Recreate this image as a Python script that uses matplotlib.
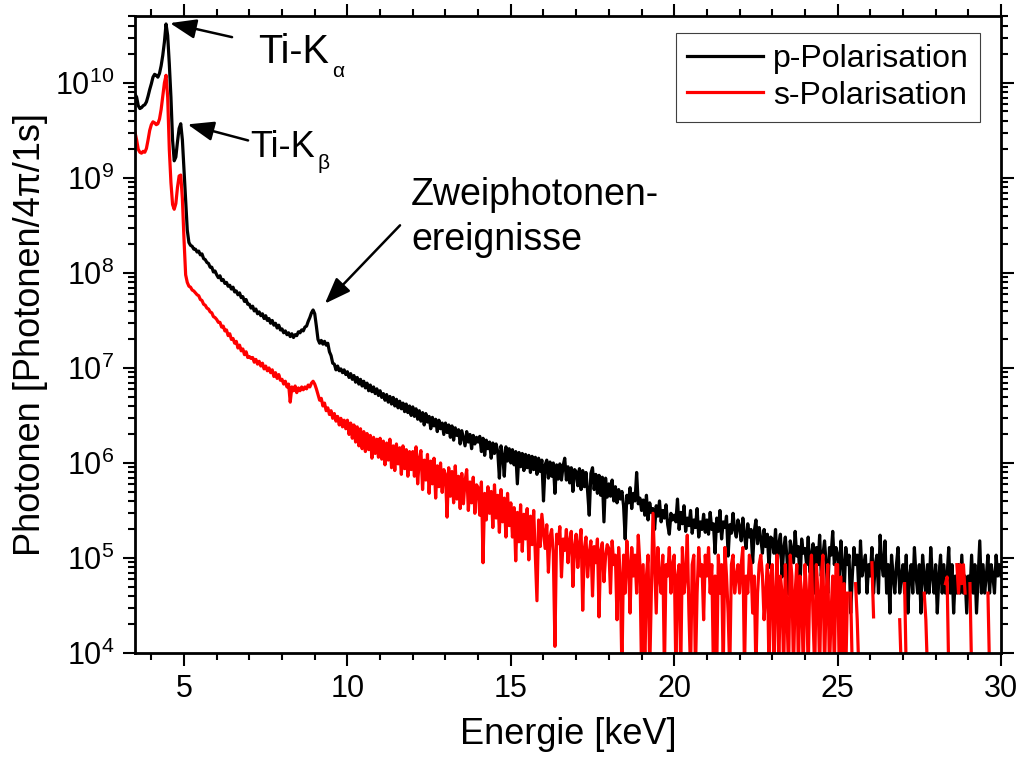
import numpy as np
import matplotlib
matplotlib.use("Agg")
import matplotlib.pyplot as plt
from matplotlib.ticker import MultipleLocator, LogLocator, NullFormatter

nan = float("nan")

# energy channels, 0.05 keV wide
energy = np.round(np.linspace(3.5, 30.0, 531), 2)

# log10 of photon counts, one row per keV (first row starts at 3.5 keV)
p_log10 = [
    9.88, 9.85, 9.76, 9.73, 9.74, 9.76, 9.77, 9.80, 9.86, 9.93,
    9.99, 10.06, 10.09, 10.08, 10.06, 10.10, 10.18, 10.29, 10.43, 10.62, 10.50, 10.20, 9.85, 9.40, 9.18, 9.22, 9.38, 9.52, 9.57, 9.40,
    9.08, 8.78, 8.45, 8.32, 8.29, 8.28, 8.25, 8.25, 8.22, 8.23, 8.19, 8.20, 8.15, 8.14, 8.11, 8.10, 8.06, 8.06, 8.01, 8.02,
    7.98, 7.95, 7.97, 7.92, 7.93, 7.89, 7.90, 7.86, 7.87, 7.83, 7.85, 7.80, 7.81, 7.77, 7.79, 7.74, 7.75, 7.70, 7.72, 7.67,
    7.67, 7.63, 7.65, 7.60, 7.62, 7.57, 7.59, 7.55, 7.57, 7.52, 7.55, 7.50, 7.52, 7.47, 7.50, 7.45, 7.47, 7.42, 7.45, 7.40,
    7.41, 7.37, 7.39, 7.35, 7.37, 7.33, 7.36, 7.32, 7.35, 7.34, 7.38, 7.37, 7.40, 7.39, 7.43, 7.44, 7.49, 7.53, 7.58, 7.61,
    7.57, 7.44, 7.30, 7.26, 7.29, 7.25, 7.28, 7.24, 7.26, 7.17, 7.13, 7.05, 7.04, 6.98, 7.02, 6.97, 6.99, 6.95, 6.98, 6.93,
    6.96, 6.90, 6.94, 6.88, 6.92, 6.85, 6.90, 6.83, 6.88, 6.81, 6.86, 6.79, 6.84, 6.76, 6.82, 6.75, 6.80, 6.73, 6.78, 6.71,
    6.76, 6.69, 6.73, 6.66, 6.72, 6.64, 6.70, 6.62, 6.69, 6.60, 6.67, 6.58, 6.65, 6.57, 6.63, 6.54, 6.62, 6.53, 6.60, 6.50,
    6.59, 6.49, 6.57, 6.46, 6.55, 6.44, 6.53, 6.40, 6.52, 6.43, 6.49, 6.36, 6.48, 6.39, 6.46, 6.33, 6.45, 6.36, 6.42, 6.30,
    6.42, 6.32, 6.40, 6.27, 6.39, 6.24, 6.37, 6.29, 6.35, 6.20, 6.34, 6.26, 6.18, 6.33, 6.22, 6.30, 6.15, 6.29, 6.20, 6.27,
    6.22, 6.28, 6.12, 6.26, 6.08, 6.24, 6.15, 6.22, 6.05, 6.21, 6.10, 6.20, 6.12, 5.84, 6.18, 6.08, 5.86, 6.17, 6.02, 6.15,
    6.00, 6.14, 5.98, 6.12, 5.78, 6.11, 5.96, 6.10, 5.92, 6.09, 5.95, 6.08, 5.90, 6.07, 5.93, 6.06, 5.88, 6.05, 5.91, 6.03,
    5.60, 5.98, 6.03, 5.84, 6.01, 5.86, 6.00, 5.68, 5.98, 5.83, 5.99, 5.82, 5.97, 6.05, 5.82, 5.96, 5.79, 5.95, 5.70, 5.93,
    5.91, 5.76, 5.94, 5.72, 5.92, 5.75, 5.90, 5.70, 5.45, 5.89, 5.95, 5.72, 5.88, 5.68, 5.87, 5.66, 5.85, 5.38, 5.84, 5.64,
    5.78, 5.65, 5.82, 5.60, 5.75, 5.58, 5.72, 5.62, 5.70, 5.55, 5.20, 5.66, 5.58, 5.74, 5.52, 5.68, 5.60, 5.90, 5.57, 5.63,
    5.50, 5.61, 5.45, 5.66, 5.40, 5.58, 5.48, 5.52, 5.30, 5.55, 5.44, 5.60, 5.38, 5.50, 5.42, 5.56, 5.35, 5.25, 5.47, 5.40,
    5.45, 5.38, 5.62, 5.30, 5.48, 5.36, 5.55, 5.28, 5.42, 5.34, 5.50, 5.26, 5.40, 5.32, 5.52, 5.22, 5.38, 5.30, 5.46, 5.27,
    5.40, 5.25, 5.48, 5.30, 5.36, 5.05, 5.42, 5.28, 5.50, 5.20, 5.38, 5.32, 5.44, 5.02, 5.35, 5.26, 5.47, 5.30, 5.22, 5.40,
    5.33, 5.18, 5.42, 5.24, 5.10, 5.36, 5.22, 5.30, 4.95, 5.28, 5.40, 5.15, 5.32, 5.20, 5.05, 5.30, 5.12, 5.25, 4.90, 5.22,
    5.20, 5.05, 5.30, 4.95, 5.15, 5.25, 4.80, 5.10, 5.22, 5.00, 4.62, 5.18, 5.08, 4.95, 5.28, 5.02, 5.12, 4.70, 5.20, 5.05,
    5.10, 4.93, 5.22, 4.85, 5.03, 5.15, 4.63, 5.11, 4.93, 5.24, 4.81, 5.03, 5.18, 4.93, 4.63, 5.11, 5.03, 5.28, 4.93, 5.11,
    5.03, 4.81, 5.18, 4.93, 4.63, 5.11, 4.93, 5.03, 4.42, 4.81, 5.11, 4.93, 5.03, 4.63, 5.18, 4.81, 4.93, 5.03, 4.63, 4.93,
    4.81, 5.11, 4.63, 4.93, 5.03, 4.63, 5.24, 4.93, 4.81, 5.18, 4.63, 4.93, 4.42, 5.03, 4.81, 4.63, 4.93, 5.11, 4.63, 4.81,
    4.93, 4.63, 5.03, 4.42, 4.81, 4.93, 4.63, 5.11, 4.81, 4.63, 4.93, 4.42, 5.03, 4.81, 4.63, 4.93, 4.63, 5.11, 4.81, 4.63,
    4.93, 4.42, 4.81, 5.03, 4.63, 4.93, 4.63, 4.81, 5.11, 4.63, 4.93, 4.42, 4.81, 4.63, 4.93, 4.63, 5.03, 4.63, 4.81, 4.42,
    4.81, 4.63, 5.03, 4.63, 4.93, 4.42, 4.81, 5.18, 4.63, 4.93, 4.63, 4.81, 5.03, 4.63, 4.93, 4.81, 4.63, 5.03, 4.81, 4.93,
    4.81,
]

# s-polarisation; nan = empty channel (zero counts)
s_log10 = [
    9.48, 9.40, 9.30, 9.27, 9.26, 9.28, 9.27, 9.31, 9.40, 9.50,
    9.56, 9.59, 9.58, 9.56, 9.57, 9.62, 9.72, 9.86, 10.00, 10.08, 9.85, 9.30, 8.95, 8.72, 8.67, 8.73, 8.90, 9.02, 9.03, 8.78,
    8.35, 7.98, 7.90, 7.86, 7.85, 7.82, 7.81, 7.79, 7.77, 7.76, 7.72, 7.71, 7.67, 7.66, 7.63, 7.62, 7.59, 7.58, 7.54, 7.53,
    7.51, 7.48, 7.48, 7.43, 7.44, 7.39, 7.40, 7.34, 7.36, 7.30, 7.31, 7.26, 7.28, 7.21, 7.24, 7.18, 7.20, 7.14, 7.17, 7.11,
    7.12, 7.10, 7.11, 7.06, 7.09, 7.04, 7.07, 7.02, 7.05, 6.99, 7.02, 6.97, 7.00, 6.95, 6.98, 6.91, 6.95, 6.89, 6.93, 6.87,
    6.88, 6.83, 6.86, 6.80, 6.83, 6.64, 6.80, 6.76, 6.81, 6.74, 6.79, 6.76, 6.80, 6.77, 6.80, 6.78, 6.82, 6.80, 6.84, 6.86,
    6.83, 6.78, 6.72, 6.66, 6.68, 6.60, 6.63, 6.55, 6.58, 6.51, 6.55, 6.47, 6.52, 6.44, 6.49, 6.40, 6.47, 6.38, 6.45, 6.36,
    6.45, 6.30, 6.42, 6.26, 6.40, 6.22, 6.38, 6.18, 6.36, 6.15, 6.33, 6.12, 6.31, 6.14, 6.29, 6.05, 6.27, 6.10, 6.25, 6.06,
    6.26, 6.04, 6.23, 5.98, 6.21, 6.03, 6.25, 5.95, 6.18, 5.92, 6.20, 5.99, 6.16, 5.88, 6.18, 5.94, 6.14, 5.86, 6.12, 5.93,
    6.12, 5.86, 6.17, 5.78, 6.05, 6.13, 5.72, 6.03, 5.82, 6.09, 5.68, 6.02, 5.78, 6.05, 5.63, 5.97, 5.75, 6.00, 5.69, 5.93,
    5.88, 5.43, 5.95, 5.65, 5.91, 5.58, 5.97, 5.62, 5.86, 5.52, 5.89, 5.57, 5.81, 5.93, 5.50, 5.80, 5.58, 5.85, 5.47, 5.77,
    5.74, 5.45, 5.80, 4.95, 5.68, 5.40, 5.75, 5.47, 5.70, 5.32, 5.77, 5.42, 5.66, 5.27, 5.72, 5.38, 5.63, 5.22, 5.68, 5.34,
    5.58, 5.22, 5.53, 4.97, 5.48, 5.17, 5.56, 5.07, 5.46, 5.20, 5.52, 4.98, 5.44, 5.14, 5.50, 5.04, 4.55, 5.40, 5.12, 5.46,
    5.28, 5.10, 5.35, 4.85, 5.22, 5.30, 5.05, 4.07, 5.25, 5.15, 5.33, 4.80, 5.20, 5.08, 5.30, 4.95, 5.18, 5.28, 4.70, 5.12,
    5.25, 4.90, 5.15, 5.30, 4.45, 5.10, 5.22, 4.80, 5.05, 5.18, 4.60, 5.12, 4.95, 5.20, 4.38, 5.08, 5.16, 4.75, 5.02, 5.14,
    5.10, 4.63, 5.18, 4.93, 5.03, 4.35, 5.11, 4.81, 3.80, 5.03, 4.63, 5.18, 4.93, 4.42, 5.11, 4.81, 5.03, 4.63, 5.24, 4.93,
    3.80, 4.93, 3.80, 4.81, 5.03, 3.80, 4.63, 5.47, 4.93, 4.42, 5.11, 4.81, 4.63, 5.03, 3.80, 4.93, 4.81, 5.11, 4.63, 4.93,
    5.03, 3.80, 4.81, 4.93, 3.80, 5.11, 4.63, 4.81, 5.24, 4.42, 3.80, 4.93, 5.03, 3.80, 4.63, 5.11, 4.81, 4.93, 4.35, 5.03,
    4.81, 5.11, 4.63, 4.93, 3.80, 4.81, 3.80, 5.03, 4.63, 4.93, 3.80, 5.11, 4.81, 4.42, 3.80, 4.93, 5.03, 4.63, 4.81, 4.93,
    4.63, 4.93, 5.11, 3.80, 4.81, 4.63, 5.03, 4.93, 4.42, 4.81, 3.80, 4.63, 4.93, 5.03, 4.81, 4.35, 4.63, 4.93, 3.80, 4.81,
    4.93, 3.80, 4.63, 5.03, 3.80, 4.81, 4.63, 3.80, 4.93, 4.42, 3.80, 5.03, 4.81, 3.80, 4.63, 4.93, 3.80, 4.81, 4.63, 3.80,
    4.93, 4.63, 3.80, 4.81, 5.03, 4.35, 3.80, 4.93, 4.63, 3.80, 4.81, 5.03, 3.80, 4.63, 4.93, 3.80, 4.42, 4.81, 3.80, 4.93,
    4.93, 3.80, 4.80, 3.80, 4.73, 3.80, 4.63, nan, 4.63, 3.80, nan, 4.73, 4.35, 3.80, nan, nan, nan, nan, nan, nan,
    nan, 4.95, 4.38, nan, nan, nan, nan, nan, nan, nan, nan, nan, nan, nan, nan, nan, nan, nan, 4.35, 3.80,
    nan, 4.73, 3.80, nan, nan, nan, nan, nan, nan, nan, nan, nan, nan, 4.63, 4.35, 3.80, nan, nan, nan, nan,
    nan, nan, nan, nan, nan, nan, 4.73, 4.80, 3.80, nan, nan, nan, nan, 4.93, 4.63, 4.93, 4.73, 4.93, 4.63, nan,
    nan, 4.73, 3.80, nan, nan, nan, nan, nan, nan, nan, nan, nan, 4.63, 3.80, nan, nan, nan, nan, nan, nan,
    nan,
]

assert len(p_log10) == len(energy) and len(s_log10) == len(energy)

p_counts = 10.0 ** np.array(p_log10)
s_counts = 10.0 ** np.array(s_log10)

plt.rcParams["font.family"] = ["Liberation Sans", "DejaVu Sans"]
plt.rcParams["mathtext.fontset"] = "custom"
plt.rcParams["mathtext.rm"] = "Liberation Sans"
plt.rcParams["mathtext.it"] = "Liberation Sans:italic"
plt.rcParams["mathtext.default"] = "regular"

fig = plt.figure(figsize=(10.25, 7.6), dpi=100)
ax = fig.add_axes([0.1317, 0.1408, 0.8449, 0.8386])

ax.plot(energy, p_counts, color="black", lw=2.3, label="p-Polarisation")
ax.plot(energy, s_counts, color="red", lw=2.3, label="s-Polarisation")

ax.set_yscale("log")
ax.set_xlim(3.5, 30)
ax.set_ylim(1e4, 5.1e10)

ax.xaxis.set_major_locator(MultipleLocator(5))
ax.xaxis.set_minor_locator(MultipleLocator(1))
ax.yaxis.set_major_locator(LogLocator(base=10, numticks=20))
ax.yaxis.set_minor_locator(LogLocator(base=10, subs=np.arange(2, 10), numticks=50))
ax.yaxis.set_minor_formatter(NullFormatter())

for sp in ax.spines.values():
    sp.set_linewidth(2.0)
ax.tick_params(which="both", direction="out", top=True, right=True,
               labeltop=False, labelright=False, width=1.5)
ax.tick_params(which="major", length=9, labelsize=22, pad=6)
ax.tick_params(which="minor", length=5)

ax.set_xlabel("Energie [keV]", fontsize=26)
ax.set_ylabel("Photonen [Photonen/4π/1s]", fontsize=26)
ax.xaxis.set_label_coords(0.5, -0.10)
ax.yaxis.set_label_coords(-0.10, 0.5)

leg = ax.legend(loc="upper right", bbox_to_anchor=(980 / 1025, 1 - 33 / 760),
                bbox_transform=fig.transFigure, borderaxespad=0, fontsize=23,
                fancybox=False, framealpha=1, edgecolor="#404040",
                handlelength=2.4, handletextpad=0.3, labelspacing=0.2,
                borderpad=0.35)
leg.get_frame().set_linewidth(0.8)

# arrows pointing at the lines
arrow = dict(arrowstyle="-|>,head_length=0.8,head_width=0.3", color="black",
             lw=1.8, mutation_scale=20, shrinkA=0, shrinkB=0)
ax.annotate("", xy=(4.57, 4.26e10), xytext=(6.47, 3.03e10), arrowprops=arrow)
ax.annotate("", xy=(5.11, 3.66e9), xytext=(6.96, 2.48e9), arrowprops=arrow)
ax.annotate("", xy=(9.31, 4.75e7), xytext=(11.61, 3.17e8), arrowprops=arrow)

# line labels with small, low subscripts
ax.text(7.28, 1.60e10, "Ti-K", fontsize=28.5, va="baseline", ha="left")
ax.annotate("α", xy=(7.28, 1.60e10), xytext=(53, -10), textcoords="offset points",
            fontsize=15, va="baseline", ha="left")
ax.text(7.02, 1.64e9, "Ti-K", fontsize=26, va="baseline", ha="left")
ax.annotate("β", xy=(7.02, 1.64e9), xytext=(48.5, -8), textcoords="offset points",
            fontsize=15, va="baseline", ha="left")
ax.text(11.95, 5.14e8, "Zweiphotonen-", fontsize=27, va="baseline", ha="left")
ax.text(11.95, 1.73e8, "ereignisse", fontsize=27, va="baseline", ha="left")

fig.savefig("out.png", dpi=100)
